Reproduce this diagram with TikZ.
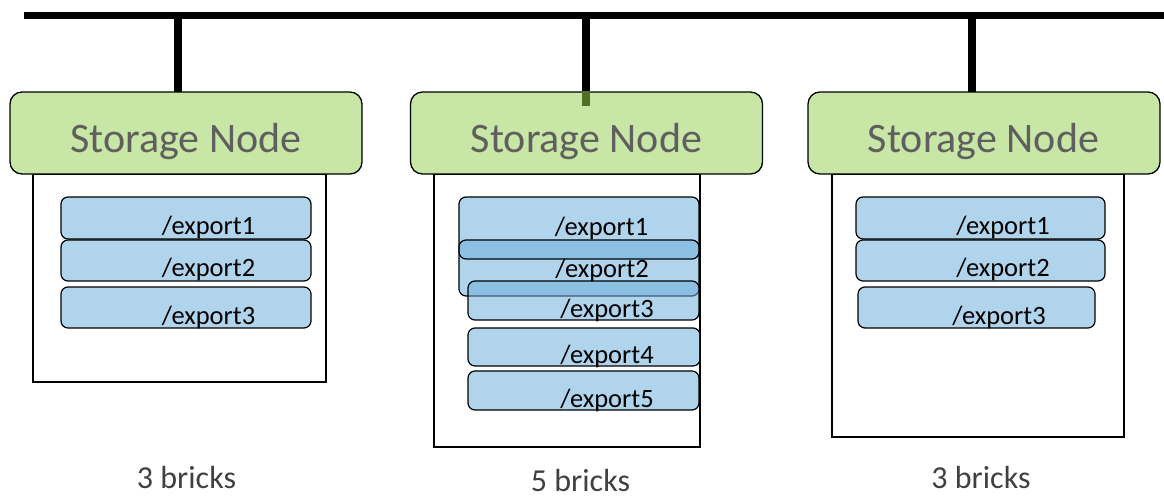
\documentclass[tikz,border=0pt]{standalone}
\usepackage{fontspec}
\setmainfont{Carlito}
\definecolor{headgreen}{RGB}{200,230,165}
\definecolor{headtext}{RGB}{95,95,95}
\definecolor{brickblue}{RGB}{106,174,219}
\definecolor{stubgreen}{RGB}{80,112,40}
\definecolor{counttext}{RGB}{64,64,64}

\begin{document}
\begin{tikzpicture}[x=1pt,y=-1pt,
    bus/.style={line width=7.5pt},
    head/.style={draw,fill=headgreen,rounded corners=12pt,line width=1.3pt,
      minimum width=352pt,minimum height=82pt},
    rack/.style={draw,line width=1.3pt},
    brick/.style={draw,fill=brickblue,fill opacity=0.53,rounded corners=7pt,line width=1.2pt}]

        \useasboundingbox (0,0) rectangle (1164,498);

        % bus and links
        \coordinate (b0) at (24,15.5);
        \coordinate (b9) at (1164,15.5);
        \coordinate (t1) at (178,15.5);
        \coordinate (t2) at (586,15.5);
        \coordinate (t3) at (972,15.5);
        \draw[bus] (b0) -- (b9);
        \draw[bus] (t1) -- ++(0,77);
        \draw[bus] (t2) -- ++(0,77);
        \draw[bus] (t3) -- ++(0,77);

        % racks
        \draw[rack] (33,174) rectangle (326,382);
        \draw[rack] (434,174) rectangle (700,447);
        \draw[rack] (832,174) rectangle (1124,437);

        \begin{scope}[every node/.style={head}]
          \node (sn1) at (186,133) {};
          \node (sn2) at (586.5,133) {};
          \node (sn3) at (984,133) {};
        \end{scope}
        \draw[line width=7.5pt,stubgreen] (t2 |- sn2.north) -- ++(0,15);

        \begin{scope}[every node/.style={anchor=base,inner sep=0pt,text=headtext,font=\fontsize{42}{50}\selectfont}]
          \node (sl1) at (186,152.5) {Storage Node};
          \node (sl2) at (586.5,152.5) {Storage Node};
          \node (sl3) at (983.5,152.5) {Storage Node};
        \end{scope}

        % bricks
        \draw[brick] (61,197) rectangle (311,239);
        \draw[brick] (61,240) rectangle (311,281);
        \draw[brick] (61,287) rectangle (311,328);

        \draw[brick] (459,197) rectangle (699,296);
        \draw[brick] (459,240) rectangle (699,259);
        \draw[brick] (468,281) rectangle (699,320);
        \draw[brick] (468,328) rectangle (700,366);
        \draw[brick] (468,371) rectangle (699,410);

        \draw[brick] (856,197) rectangle (1105,239);
        \draw[brick] (856,240) rectangle (1105,281);
        \draw[brick] (858,287) rectangle (1095,328);

        \begin{scope}[every node/.style={anchor=base,inner sep=0pt,font=\fontsize{26.5}{30}\selectfont}]
          \node (e11) at (208.5,234) {/export1};
          \node (e12) at (208.5,276) {/export2};
          \node (e13) at (208.5,324) {/export3};
          \node (e21) at (601.5,235) {/export1};
          \node (e22) at (602,277) {/export2};
          \node (e23) at (607,317) {/export3};
          \node (e24) at (607,363) {/export4};
          \node (e25) at (607,407) {/export5};
          \node (e31) at (1003,234) {/export1};
          \node (e32) at (1003,276) {/export2};
          \node (e33) at (999,324) {/export3};
        \end{scope}

        \begin{scope}[every node/.style={anchor=base,inner sep=0pt,text=counttext,font=\fontsize{32}{38}\selectfont}]
          \node (c1) at (186.5,488) {3 bricks};
          \node (c2) at (580.5,491.5) {5 bricks};
          \node (c3) at (981,488) {3 bricks};
        \end{scope}

      \end{tikzpicture}
\end{document}
